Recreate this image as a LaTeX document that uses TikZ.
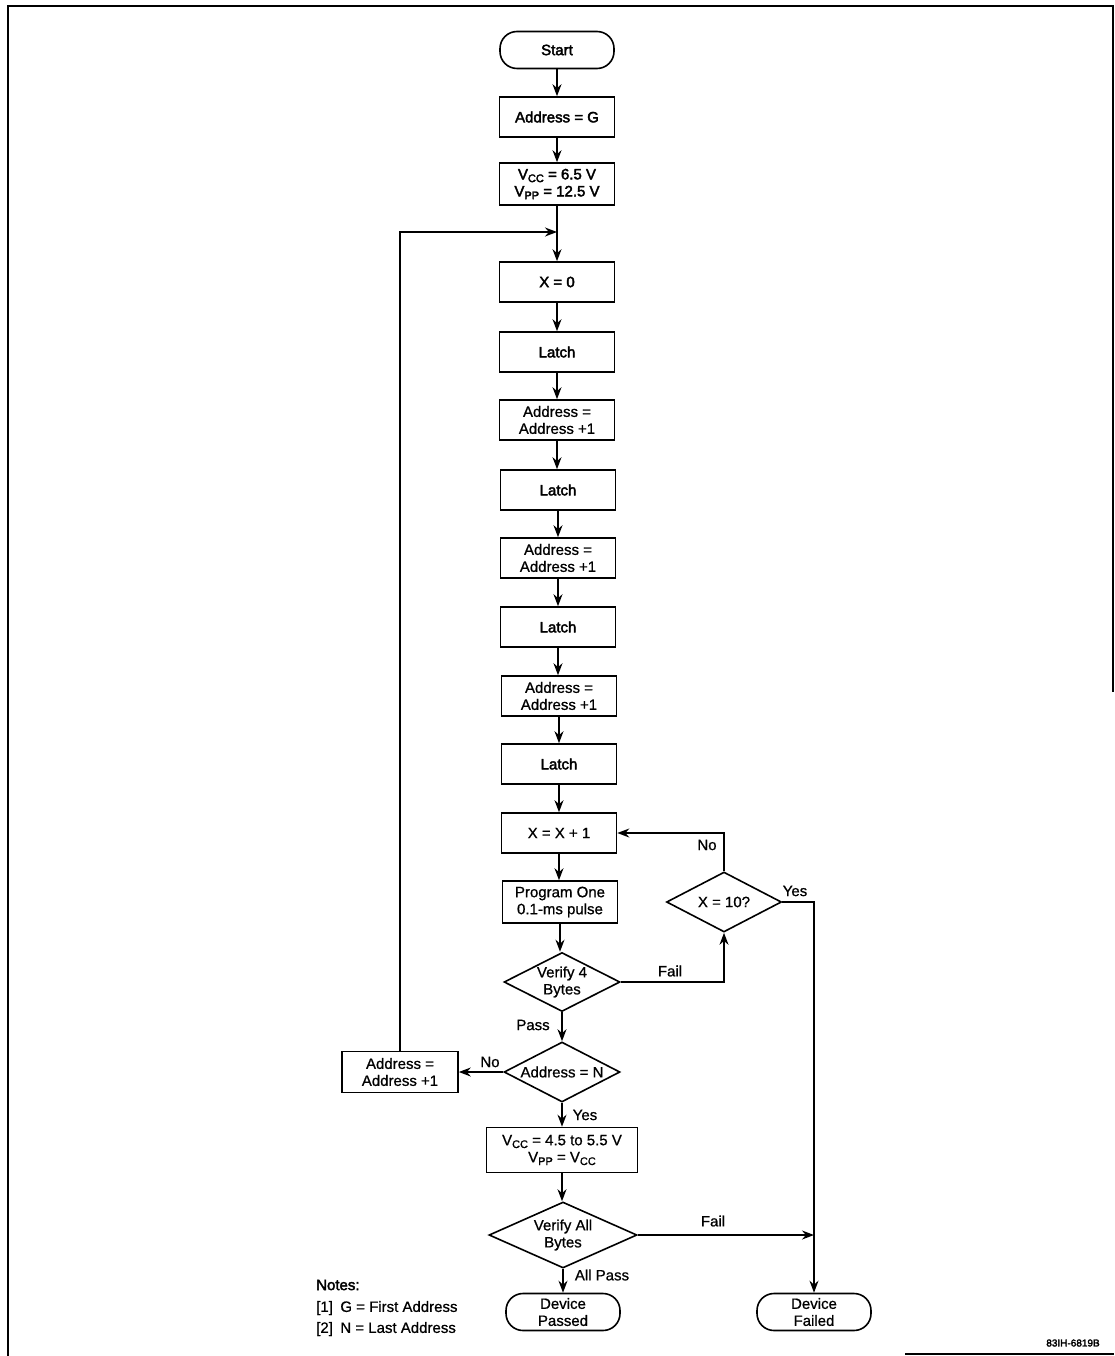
\documentclass[tikz,border=0pt]{standalone}
\usepackage{fontspec}
\setmainfont{Liberation Sans}[FakeBold=0.8]
\newfontfamily\heavy{Liberation Sans}[FakeBold=2.6]
\usetikzlibrary{shapes.geometric,arrows.meta}
\newcommand\vsub[1]{\raisebox{-0.35ex}{\fontsize{11}{11}\selectfont #1}}
\begin{document}
\begin{tikzpicture}[x=1pt,y=-1pt,
  txt/.style={font=\fontsize{15}{17}\selectfont},
  box/.style={txt,draw,line width=1.6pt,minimum width=115,minimum height=40,inner sep=1pt,align=center},
  term/.style={txt,draw,line width=1.6pt,rounded corners=17,minimum width=114,minimum height=37,inner sep=1pt,align=center},
  dec/.style={txt,draw,line width=1.6pt,diamond,aspect=2,inner sep=0pt,align=center},
  conn/.style={line width=1.5pt},
  flow/.style={conn,-{Stealth[length=12pt,width=9pt]}},
  lbl/.style={txt,inner sep=1pt},
  frame/.style={line width=1.8pt}]
\useasboundingbox (0,0) rectangle (1114,1356);
% frame
\draw[frame] (8,1356) -- (8,6) -- (1113,6) -- (1113,692);
\draw[line width=1.2pt] (905,1354) -- (1114,1354);
% nodes
\node[term] (start) at (557,50) {\heavy Start};
\node[box] (addrG) at (557,117) {\heavy Address = G};
\node[box,minimum height=42] (vcc1) at (557,184) {\heavy V\vsub{CC} = 6.5 V\\\heavy V\vsub{PP} = 12.5 V};
\coordinate (j1) at (557,232);
\node[box] (x0) at (557,282) {\heavy X = 0};
\node[box] (l1) at (557,352) {\heavy Latch};
\node[box] (a1) at (557,420) {Address =\\Address +1};
\node[box] (l2) at (558,490) {\heavy Latch};
\node[box] (a2) at (558,558) {Address =\\Address +1};
\node[box] (l3) at (558,627) {\heavy Latch};
\node[box] (a3) at (559,696) {Address =\\Address +1};
\node[box] (l4) at (559,764) {\heavy Latch};
\node[box] (xinc) at (559,833) {X = X + 1};
\node[box,minimum height=42] (prog) at (560,902) {Program One\\0.1-ms pulse};
\node[dec,minimum width=116,minimum height=59] (v4) at (562,982) {Verify 4\\Bytes};
\node[dec,minimum width=115,minimum height=60] (x10) at (724,902) {X = 10?};
\node[dec,minimum width=116,minimum height=60] (aN) at (562,1072) {Address = N};
\node[box,minimum width=116,minimum height=41] (a4) at (400,1072) {Address =\\Address +1};
\node[box,minimum width=151,minimum height=45] (vcc2) at (562,1150) {V\vsub{CC} = 4.5 to 5.5 V\\V\vsub{PP} = V\vsub{CC}};
\node[dec,minimum width=148,minimum height=66] (vall) at (563,1235) {Verify All\\Bytes};
\node[term] (pass) at (563,1312) {Device\\Passed};
\node[term] (fail) at (814,1312) {Device\\Failed};
\coordinate (j2) at (814,1235);
% connectors
\draw[flow] (start.south) -- (start.south |- addrG.north);
\draw[flow] (addrG.south) -- (addrG.south |- vcc1.north);
\draw[conn] (vcc1.south) -- (j1);
\draw[flow] (j1) -- (j1 |- x0.north);
\draw[flow] (x0.south) -- (x0.south |- l1.north);
\draw[flow] (l1.south) -- (l1.south |- a1.north);
\draw[flow] (a1.south) -- (a1.south |- l2.north);
\draw[flow] (l2.south) -- (l2.south |- a2.north);
\draw[flow] (a2.south) -- (a2.south |- l3.north);
\draw[flow] (l3.south) -- (l3.south |- a3.north);
\draw[flow] (a3.south) -- (a3.south |- l4.north);
\draw[flow] (l4.south) -- (l4.south |- xinc.north);
\draw[flow] (xinc.south) -- (xinc.south |- prog.north);
\draw[flow] (prog.south) -- (prog.south |- v4.north);
\draw[flow] (v4.east) -| (x10.south);
\draw[flow] (x10.north) |- (xinc.east);
\draw[flow] (x10.east) -| (fail.north);
\draw[flow] (v4.south) -- (v4.south |- aN.north);
\draw[flow] (aN.west) -- (a4.east);
\draw[flow] (a4.north) |- (j1);
\draw[flow] (aN.south) -- (aN.south |- vcc2.north);
\draw[flow] (vcc2.south) -- (vcc2.south |- vall.north);
\draw[flow] (vall.east) -- (j2);
\draw[flow] (vall.south) -- (vall.south |- pass.north);
% labels
\node[lbl] (lno1) at (707,845) {No};
\node[lbl] (lyes1) at (795,891) {Yes};
\node[lbl] (lfail1) at (670,971) {Fail};
\node[lbl] (lpass) at (533,1025) {Pass};
\node[lbl] (lno2) at (490,1062) {No};
\node[lbl] (lyes2) at (585,1115) {Yes};
\node[lbl] (lfail2) at (713,1221) {Fail};
\node[lbl] (lallp) at (602,1275) {All Pass};
% notes
\node[lbl,anchor=west] (notes) at (315,1285) {\heavy Notes:};
\node[lbl,anchor=west] (n1) at (315,1308) {[1]\enspace G = First Address};
\node[lbl,anchor=west] (n2) at (315,1329) {[2]\enspace N = Last Address};
\node[font=\fontsize{10}{12}\selectfont\heavy,inner sep=0pt] (fig) at (1073,1343) {83IH-6819B};
\end{tikzpicture}
\end{document}
